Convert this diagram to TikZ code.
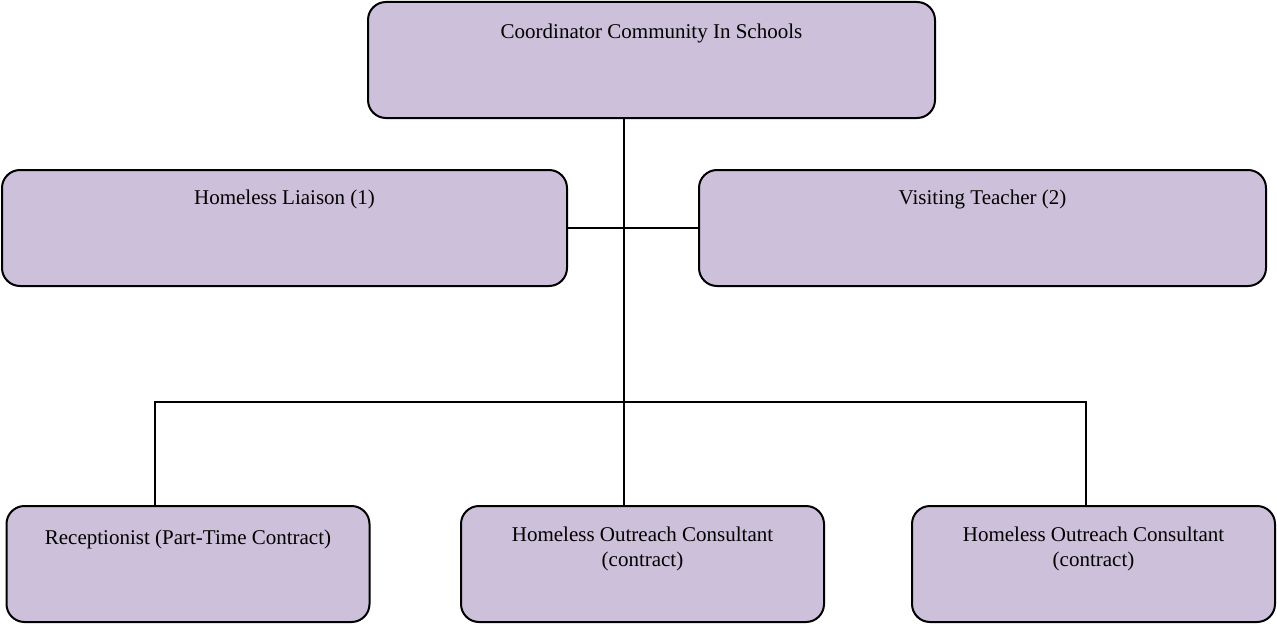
\documentclass[tikz,border=0pt]{standalone}
\usepackage{fontspec}
\setmainfont{Liberation Serif}
\usepackage{tikz}
\usetikzlibrary{positioning}
\definecolor{lavender}{HTML}{CCC0DA}

\tikzset{
	post/.style={draw, line width=2pt, rounded corners=18pt, fill=lavender, minimum height=116pt, inner sep=0pt},
	posttext/.style={anchor=north, yshift=-19.5pt, inner sep=0pt, align=center, execute at begin node=\strut, font=\fontsize{21}{25}\selectfont},
	link/.style={line width=1.8pt}
}

\begin{document}
\begin{tikzpicture}[x=1pt, y=-1pt]
	\useasboundingbox (0,0) rectangle (1277,626);
	
	% Top - coordinator
	\node[post, minimum width=567pt, label={[posttext]north:Coordinator Community In Schools}] (coord) at (651.5,60) {};
	
	% Second row - liaison and teacher
	\node[post, minimum width=565pt, label={[posttext, yshift=2pt]north:Homeless Liaison (1)}] (liaison) at (284.5,228) {};
	\node[post, minimum width=567pt, label={[posttext, yshift=2pt]north:Visiting Teacher (2)}] (teacher) at (982.5,228) {};
	
	% Bottom row - contract staff
	\foreach \name/\x/\role in {recept/188/{Receptionist (Part-Time Contract)}, outreachA/642.5/{Homeless Outreach Consultant\\(contract)}, outreachB/1093.5/{Homeless Outreach Consultant\\(contract)}} {
		\node[post, minimum width=363pt, label={[posttext, yshift=-2pt]north:\role}] (\name) at (\x,564) {};
	}
	
	% Lines
	\coordinate (spine) at (624,402);
	\coordinate (leftdrop) at (155,402);
	\coordinate (rightdrop) at (1086,402);
	\draw[link] (coord.south -| spine) -- (outreachA.north -| spine);
	\draw[link] (liaison.east) -- (teacher.west);
	\draw[link] (recept.north -| leftdrop) -- (leftdrop) -- (rightdrop) -- (outreachB.north -| rightdrop);
	
\end{tikzpicture}
\end{document}
